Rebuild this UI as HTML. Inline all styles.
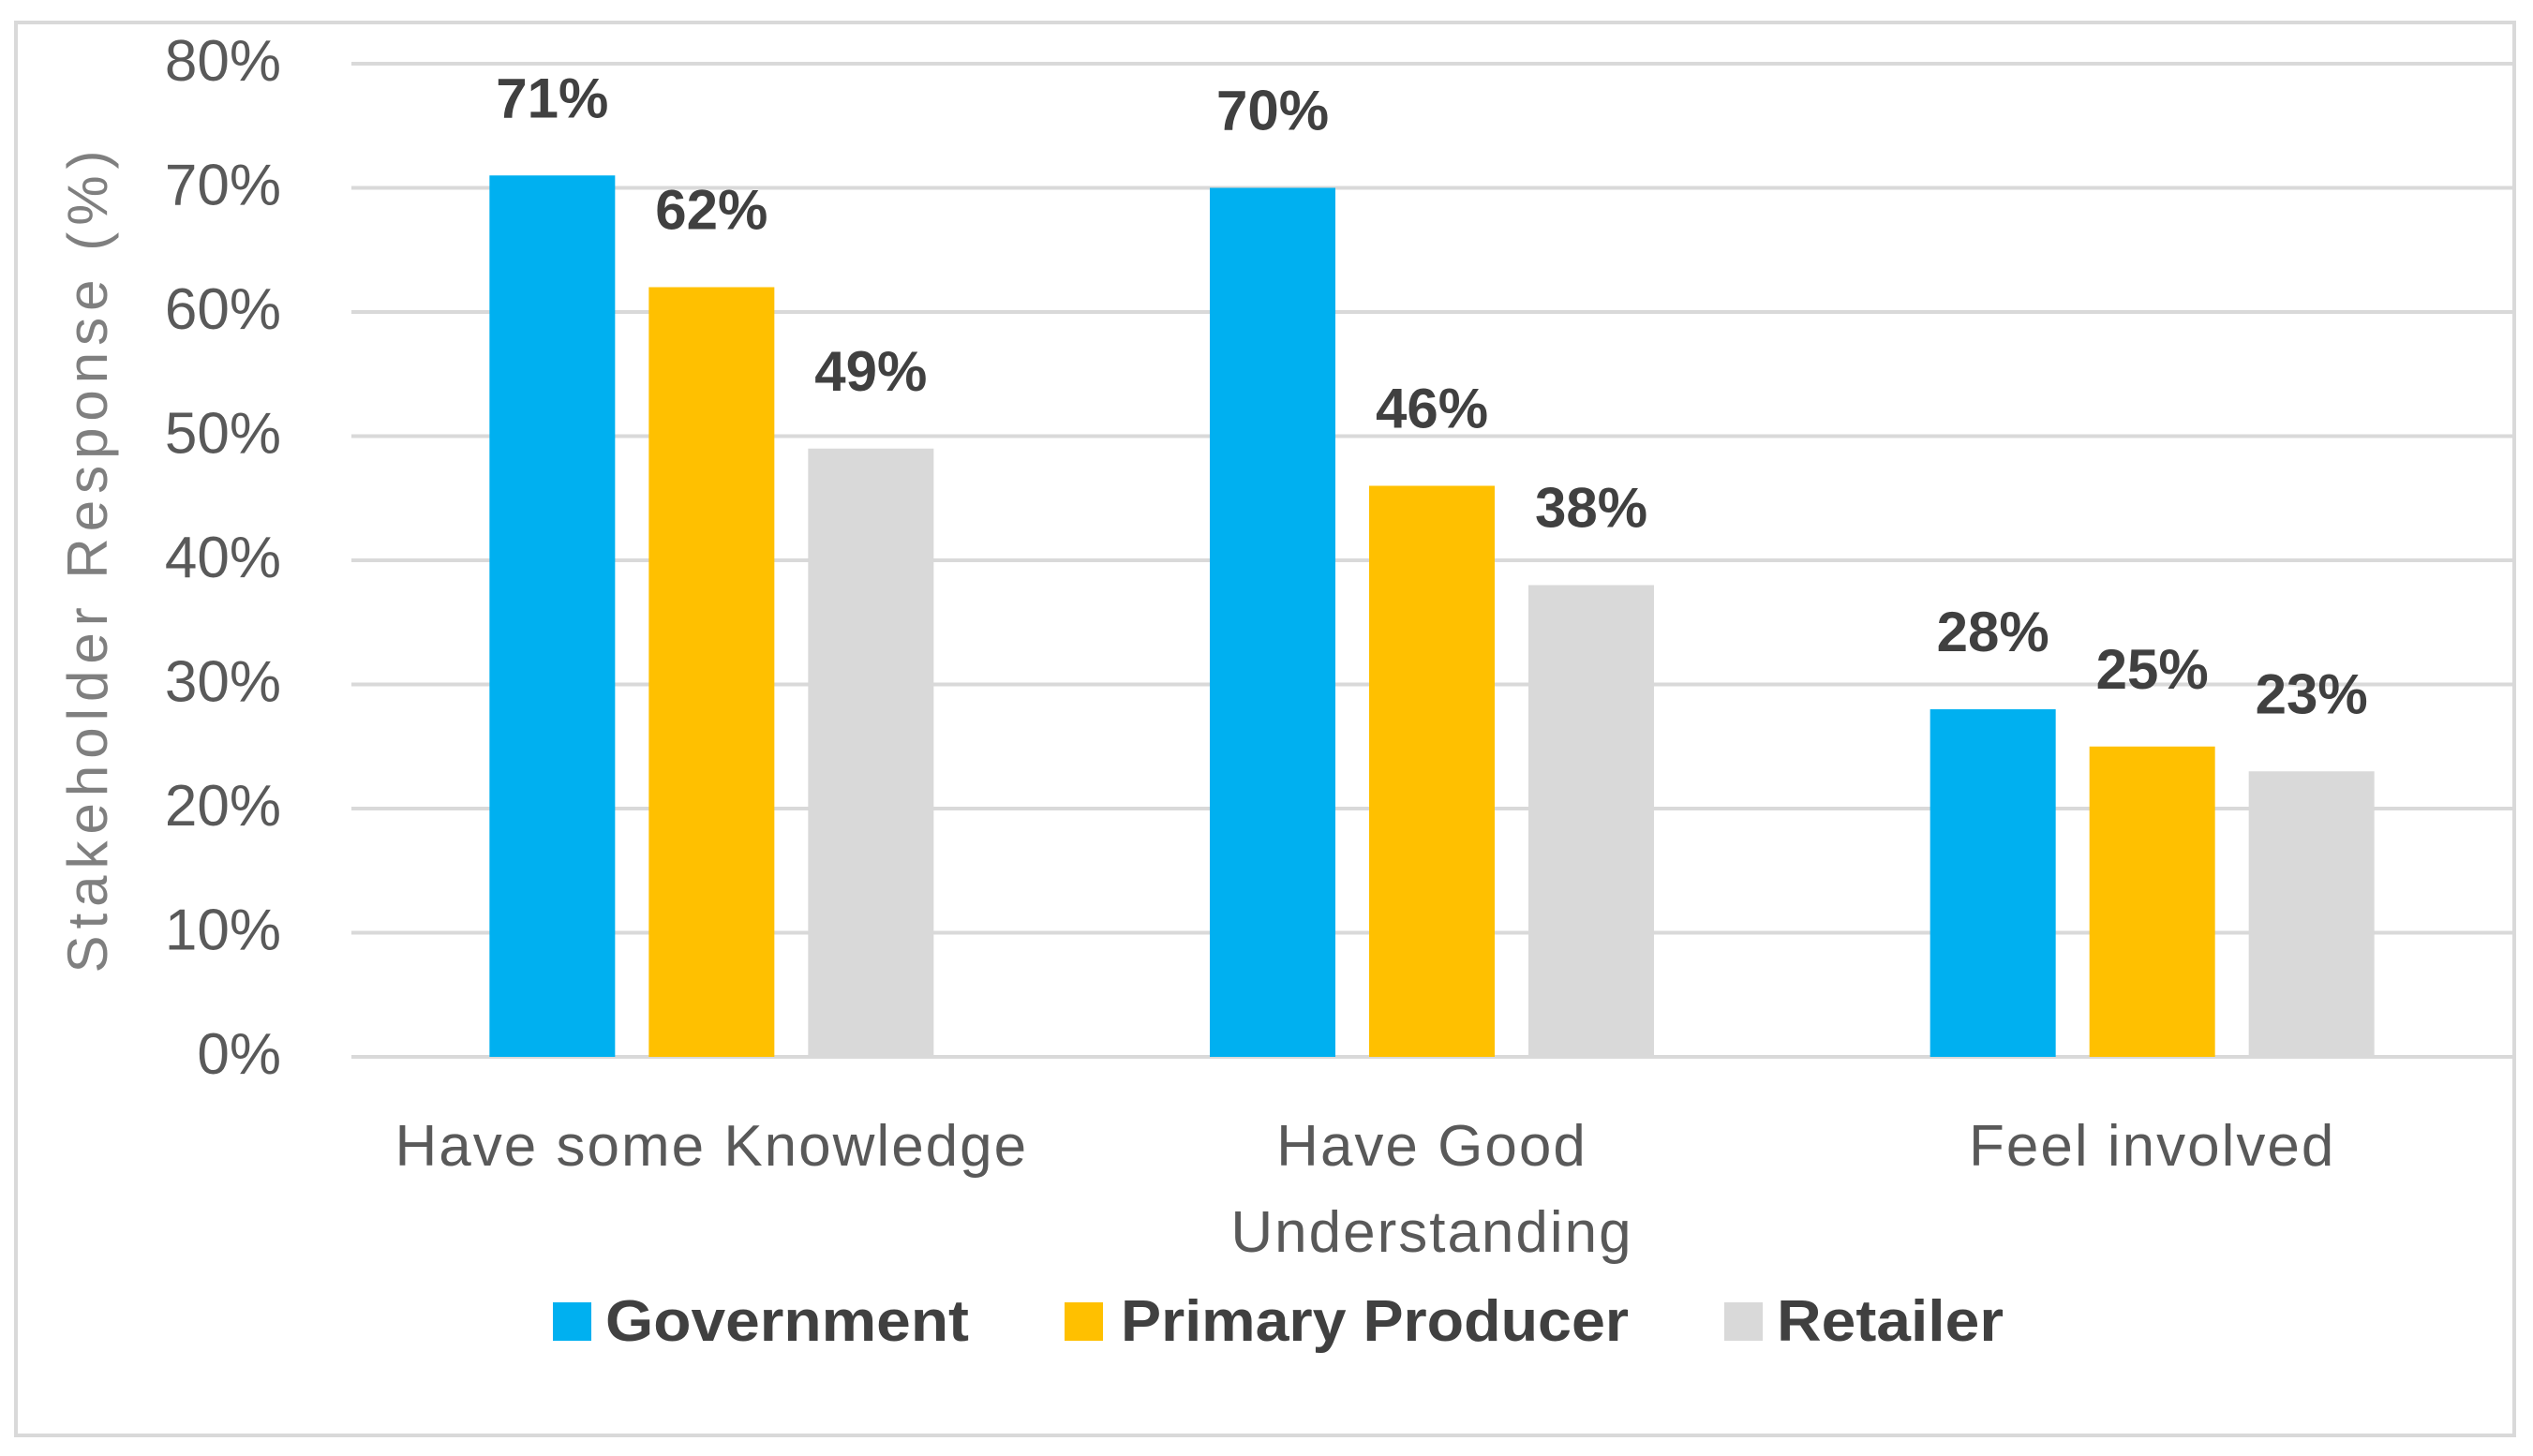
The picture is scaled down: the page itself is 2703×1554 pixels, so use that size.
<!DOCTYPE html>
<html><head><meta charset="utf-8"><style>
html,body{margin:0;padding:0;background:#fff;}
svg{display:block;font-family:"Liberation Sans",sans-serif;}
</style></head><body>
<svg id="chart" width="2703" height="1554" viewBox="0 0 2703 1554" xmlns="http://www.w3.org/2000/svg">
<rect x="17" y="24" width="2666" height="1508" fill="#fff" stroke="#d9d9d9" stroke-width="4"/>
<g id="grid"></g><g id="bars"></g><g id="labels"></g>
<text transform="translate(114,596) rotate(-90)" text-anchor="middle" font-size="60" letter-spacing="7" fill="#7f7f7f">Stakeholder Response (%)</text>
<g font-size="62" font-weight="bold" fill="#404040">
<rect x="590" y="1390" width="41" height="41" fill="#00b0f0"/>
<text x="646" y="1431" textLength="388" lengthAdjust="spacingAndGlyphs">Government</text>
<rect x="1136" y="1390" width="41" height="41" fill="#ffc000"/>
<text x="1196" y="1431" textLength="542" lengthAdjust="spacingAndGlyphs">Primary Producer</text>
<rect x="1840" y="1390" width="41" height="41" fill="#d9d9d9"/>
<text x="1896" y="1431" textLength="242" lengthAdjust="spacingAndGlyphs">Retailer</text>
</g>
</svg>
<script>
const categories = [["Have some Knowledge"], ["Have Good", "Understanding"], ["Feel involved"]];
const government = [71, 70, 28];
const primaryProducer = [62, 46, 25];
const retailer = [49, 38, 23];
const yTicks = [0, 10, 20, 30, 40, 50, 60, 70, 80];

const NS = "http://www.w3.org/2000/svg";
const plotL = 375, plotR = 2681, y0 = 1128, yTop = 68;
const yScale = v => y0 - (v / 80) * (y0 - yTop);
const catW = (plotR - plotL) / categories.length;
const catCenter = i => plotL + catW * (i + 0.5);
const barW = 134, barStep = 170;
function mk(tag, attrs, parent, txt) {
  const e = document.createElementNS(NS, tag);
  for (const k in attrs) e.setAttribute(k, attrs[k]);
  if (txt !== undefined) e.textContent = txt;
  parent.appendChild(e);
  return e;
}
const grid = document.getElementById('grid');
yTicks.forEach(t => {
  const y = yScale(t);
  const l = mk('line', {x1: plotL, x2: plotR, y1: y, y2: y, stroke: '#d9d9d9', 'stroke-width': 4}, grid);
  
  
  const tx = mk('text', {x: 300, y: y + 18, 'text-anchor': 'end', 'font-size': 62, fill: '#595959'}, grid, t + '%');
  
  
});
const series = [[government, '#00b0f0', 'government'], [primaryProducer, '#ffc000', 'primary-producer'], [retailer, '#d9d9d9', 'retailer']];
const bars = document.getElementById('bars');
const labels = document.getElementById('labels');
categories.forEach((c, i) => {
  const cx = catCenter(i);
  series.forEach((s, j) => {
    const v = s[0][i];
    const x = cx + (j - 1) * barStep - barW / 2;
    const y = yScale(v);
    const r = mk('rect', {x: x, y: y, width: barW, height: y0 - y, fill: s[1]}, bars);
    
    
    const t = mk('text', {x: x + barW / 2, y: y - 62, 'text-anchor': 'middle', 'font-size': 60, 'font-weight': 'bold', fill: '#404040'}, labels, v + '%');
    
    
  });
  c.forEach((line, k) => {
    const t = mk('text', {x: cx, y: 1244 + k * 92, 'text-anchor': 'middle', 'font-size': 62, 'letter-spacing': 2, fill: '#595959'}, labels, line);
    
    
  });
});
</script>
</body></html>
